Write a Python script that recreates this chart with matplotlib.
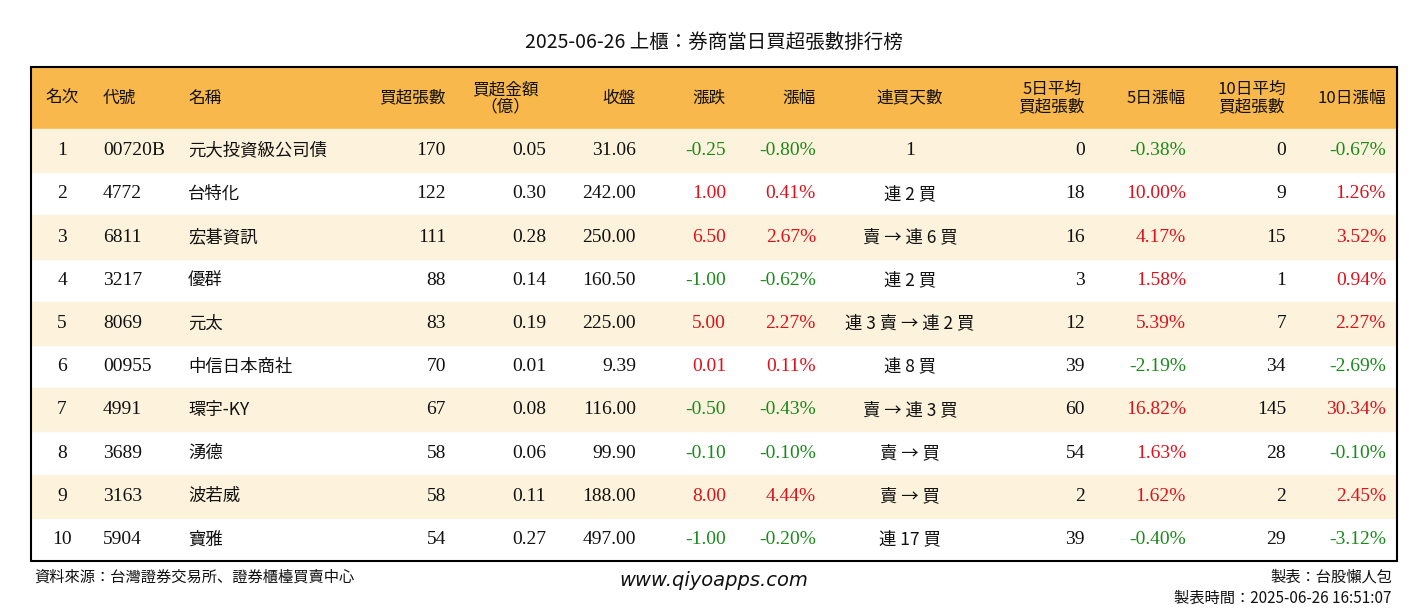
import matplotlib
matplotlib.use("Agg")
import matplotlib.pyplot as plt
from matplotlib.patches import Rectangle
from matplotlib import font_manager as fm

title = "2025-06-26 上櫃：券商當日買超張數排行榜"
headers = ["名次", "代號", "名稱", "買超張數", "買超金額\n（億）", "收盤", "漲跌", "漲幅", "連買天數",
           "5日平均\n買超張數", "5日漲幅", "10日平均\n買超張數", "10日漲幅"]
ranks = list(range(1, 11))
codes = ["00720B", "4772", "6811", "3217", "8069", "00955", "4991", "3689", "3163", "5904"]
names = ["元大投資級公司債", "台特化", "宏碁資訊", "優群", "元太", "中信日本商社", "環宇-KY", "湧德", "波若威", "寶雅"]
net_buy = [170, 122, 111, 88, 83, 70, 67, 58, 58, 54]
amount = [0.05, 0.30, 0.28, 0.14, 0.19, 0.01, 0.08, 0.06, 0.11, 0.27]
close = [31.06, 242.00, 250.00, 160.50, 225.00, 9.39, 116.00, 99.90, 188.00, 497.00]
change = [-0.25, 1.00, 6.50, -1.00, 5.00, 0.01, -0.50, -0.10, 8.00, -1.00]
pct = [-0.80, 0.41, 2.67, -0.62, 2.27, 0.11, -0.43, -0.10, 4.44, -0.20]
streak = ["1", "連 2 買", "賣 → 連 6 買", "連 2 買", "連 3 賣 → 連 2 買", "連 8 買",
          "賣 → 連 3 買", "賣 → 買", "賣 → 買", "連 17 買"]
avg5 = [0, 18, 16, 3, 12, 39, 60, 54, 2, 39]
pct5 = [-0.38, 10.00, 4.17, 1.58, 5.39, -2.19, 16.82, 1.63, 1.62, -0.40]
avg10 = [0, 9, 15, 1, 7, 34, 145, 28, 2, 29]
pct10 = [-0.67, 1.26, 3.52, 0.94, 2.27, -2.69, 30.34, -0.10, 2.45, -3.12]

avail = {f.name for f in fm.fontManager.ttflist}
CJK = next((n for n in ["Noto Sans CJK TC", "Noto Sans CJK JP", "Noto Sans CJK SC", "Noto Sans CJK KR"]
            if n in avail), "DejaVu Sans")
NUM = "Liberation Serif"

def fam(s):
    return CJK if any(ord(c) > 0x2000 for c in s) else NUM

GREEN, RED, BLACK = "#1a8a1a", "#e0101a", "#111111"

fig = plt.figure(figsize=(14.28, 6.12), dpi=100)
ax = fig.add_axes([0, 0, 1, 1])
ax.set_xlim(0, 1428); ax.set_ylim(612, 0); ax.axis("off")

L, R, T, HB = 31, 1397, 67, 129
rh = 43.2
ax.add_patch(Rectangle((L, T), R - L, HB - T, color="#F9B84B", zorder=0))
for i in range(10):
    if i % 2 == 0:
        ax.add_patch(Rectangle((L, HB + i * rh), R - L, rh, color="#FDF3DC", zorder=0))
bottom = HB + 10 * rh
ax.add_patch(Rectangle((L, T), R - L, bottom - T, fill=False, ec="black", lw=1.5, zorder=3))

ax.text(714, 42, title, ha="center", va="center", fontsize=14, family=CJK, color=BLACK)

cols = [(62, "center"), (103, "left"), (188, "left"), (446, "right"), (546, "right"), (636, "right"),
        (726, "right"), (816, "right"), (910, "center"), (1085, "right"), (1186, "right"),
        (1286, "right"), (1386, "right")]
hdr_pos = [(45, "left"), (103, "left"), (188, "left"), (446, "right"), (505, "center"), (636, "right"),
           (726, "right"), (816, "right"), (910, "center"), (1085, "right"), (1186, "right"),
           (1286, "right"), (1386, "right")]
hy = (T + HB) / 2
for (x, ha), h in zip(hdr_pos, headers):
    ax.text(x, hy, h, ha=ha, va="center", fontsize=12, family=CJK, color=BLACK,
            linespacing=1.0, multialignment="center")

def col(v):
    return GREEN if v < 0 else (RED if v > 0 else BLACK)

for i in range(10):
    y = HB + (i + 0.5) * rh
    vals = [(str(ranks[i]), BLACK), (codes[i], BLACK), (names[i], BLACK), (f"{net_buy[i]}", BLACK),
            (f"{amount[i]:.2f}", BLACK), (f"{close[i]:.2f}", BLACK),
            (f"{change[i]:.2f}", col(change[i])), (f"{pct[i]:.2f}%", col(pct[i])),
            (streak[i], BLACK), (f"{avg5[i]}", BLACK), (f"{pct5[i]:.2f}%", col(pct5[i])),
            (f"{avg10[i]}", BLACK), (f"{pct10[i]:.2f}%", col(pct10[i]))]
    for (x, ha), (s, c) in zip(cols, vals):
        f = fam(s)
        ax.text(x, y, s, ha=ha, va="center", fontsize=12.5 if f == CJK else 14, family=f, color=c)

ax.text(34, 577, "資料來源：台灣證券交易所、證券櫃檯買賣中心", ha="left", va="center",
        fontsize=11, family=CJK, color=BLACK)
ax.text(714, 580, "www.qiyoapps.com", ha="center", va="center", fontsize=14,
        family="DejaVu Sans", style="italic", color=BLACK)
ax.text(1392, 577, "製表：台股懶人包", ha="right", va="center", fontsize=11, family=CJK, color=BLACK)
ax.text(1392, 598, "製表時間：2025-06-26 16:51:07", ha="right", va="center", fontsize=11,
        family=CJK, color=BLACK)

fig.savefig("out.png", dpi=100, facecolor="white")
